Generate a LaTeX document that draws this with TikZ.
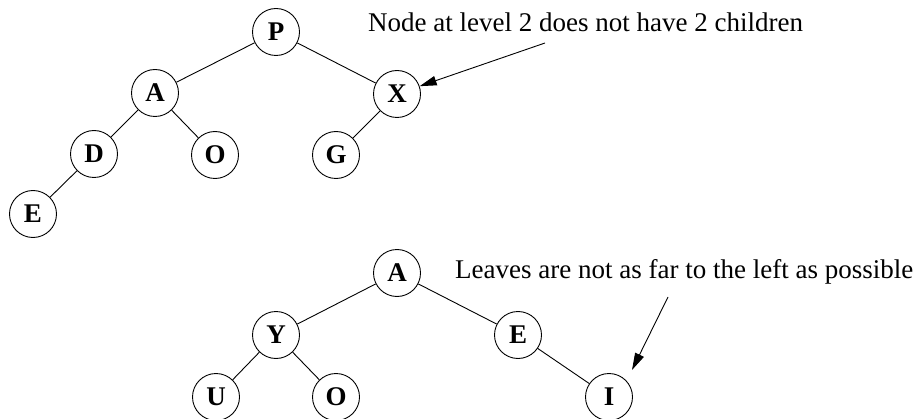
\documentclass[tikz,border=0pt]{standalone}
\usepackage{fontspec}
\setmainfont{Liberation Serif}
\usetikzlibrary{arrows.meta}
\tikzset{
  tnode/.style={circle,draw,line width=0.9pt,minimum size=47pt,inner sep=0pt,
    font=\fontsize{27}{30}\selectfont\bfseries},
  tedge/.style={line width=0.9pt},
  note/.style={anchor=base west,inner sep=0pt,font=\fontsize{27}{30}\selectfont},
  pointer/.style={line width=0.9pt,-{Triangle[length=17pt,width=9.5pt]}}
}
\begin{document}
\begin{tikzpicture}[x=1pt,y=1pt]
\useasboundingbox (0,0) rectangle (920,418);
% top tree
\node[tnode] (P) at (276,386) {P};
\node[tnode] (A) at (155,325) {A};
\node[tnode] (X) at (397,324) {X};
\node[tnode] (D) at (94,264) {D};
\node[tnode] (O) at (215,263) {O};
\node[tnode] (G) at (336,263) {G};
\node[tnode] (E) at (33,204) {E};
\draw[tedge] (P) -- (A);
\draw[tedge] (P) -- (X);
\draw[tedge] (A) -- (D);
\draw[tedge] (A) -- (O);
\draw[tedge] (X) -- (G);
\draw[tedge] (D) -- (E);
\node[note] (n1) at (368,386) {Node at level 2 does not have 2 children};
\coordinate (s1) at (545,375);
\draw[pointer] (s1) -- (X);
% bottom tree
\node[tnode] (A2) at (397,145) {A};
\node[tnode] (Y) at (276,83) {Y};
\node[tnode] (E2) at (518,83) {E};
\node[tnode] (U) at (216,21) {U};
\node[tnode] (O2) at (336,21) {O};
\node[tnode] (I) at (609,21) {I};
\draw[tedge] (A2) -- (Y);
\draw[tedge] (A2) -- (E2);
\draw[tedge] (Y) -- (U);
\draw[tedge] (Y) -- (O2);
\draw[tedge] (E2) -- (I);
\node[note] (n2) at (455,140) {Leaves are not as far to the left as possible};
\coordinate (s2) at (668,121);
\coordinate (t2) at (632,48);
\draw[pointer] (s2) -- (t2);
\end{tikzpicture}
\end{document}
